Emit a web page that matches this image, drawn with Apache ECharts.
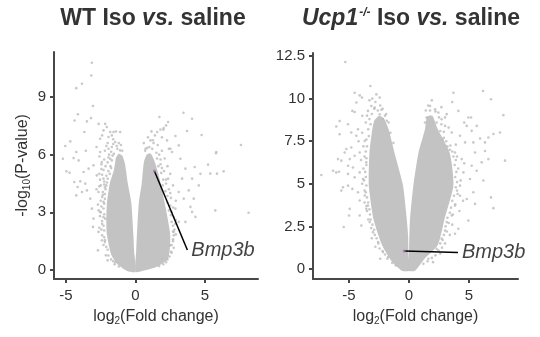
<!DOCTYPE html>
<html>
<head>
<meta charset="utf-8">
<script src="https://cdn.jsdelivr.net/npm/echarts@6/dist/echarts.min.js"></script>
<style>
  html, body { margin: 0; padding: 0; background: #fff; }
  #chart { width: 540px; height: 337px; }
</style>
</head>
<body>
<div id="chart"></div>
<script>
const fontFamily = 'Liberation Sans, Arial, sans-serif';
const dotGrey = '#bcbcbc';
const coreGrey = '#c3c3c3';
const axisGrey = '#474747';

// tick values
const wtXTicks = [-5, 0, 5];
const wtYTicks = [0, 3, 6, 9];
const ucpXTicks = [-5, 0, 5];
const ucpYTicks = [0, 2.5, 5, 7.5, 10, 12.5];

// dense cores of the volcano (outline of the saturated dot cloud), [log2FC, -log10P]
const wtCoreDown = [[0,-0.1],[-0.1,1],[-0.15,1.8],[-0.3,3.5],[-0.55,4.5],[-0.75,5.5],[-0.95,5.95],[-1.2,6.05],[-1.4,5.85],
  [-1.55,5.2],[-1.85,4.5],[-2.05,3.5],[-2.1,2.5],[-2.05,1.8],[-1.75,0.8],[-1.3,0.3],[-0.6,-0.05]];
const wtCoreUp = [[0,-0.1],[0.05,1],[0.1,1.8],[0.24,3.5],[0.45,4.5],[0.6,5.6],[0.8,6.0],[1.1,6.05],[1.35,5.7],
  [1.65,5.0],[2.1,3.5],[2.5,1.8],[2.35,0.6],[1.5,0.15],[0.5,-0.05]];
const ucpCoreDown = [[0,-0.1],[-0.05,1],[-0.08,2],[-0.2,3],[-0.5,4.9],[-1.2,6.8],[-1.7,8.2],[-2.1,8.85],[-2.5,9.0],
  [-2.9,8.7],[-3.1,8.0],[-3.3,6.8],[-3.35,4.9],[-2.95,2.9],[-2.25,1.4],[-1.5,0.5],[-0.6,-0.1]];
const ucpCoreUp = [[0,-0.1],[0,1],[0.08,2.9],[0.36,4.9],[0.78,6.8],[1.33,8.2],[1.5,8.95],[1.95,9.0],[2.4,8.2],
  [3.4,6.8],[3.7,4.9],[2.95,2.9],[2.4,1.4],[1.3,0.6],[0.5,-0.1]];

// scattered genes outside the cores
const wtPoints = [
  [-3.14,10.78],[-3.18,10.12],[-3.85,9.69],[-4.26,9.46],[-3.06,8.53],[-4.14,8.1],[-3.2,7.9],[-4.38,7.78],[-3.49,7.73],
  [-2.65,7.6],[-2.18,7.6],[-2.06,7.44],[-1.82,7.18],[-1.58,7.18],[-1.1,7.18],[-3.68,7.18],
  [-4.69,6.69],[-5.05,6.45],[-4.26,6.14],[-3.57,6.2],[-5.22,5.79],[-4.45,5.82],[-4.09,5.7],
  [-4.97,5.13],[-4.74,5.06],[-3.73,5.1],[-3.37,5.27],[-3.02,5.44],
  [-4.4,4.58],[-3.97,4.61],[-3.61,4.49],[-4.16,4.32],[-4.26,3.88],[-3.85,4.06],[-3.49,4.14],[-3.25,3.71],[-3.14,3.19],
  [-3.02,2.67],[-3.06,2.24],[-2.54,3.02],[-2.66,1.98],[-2.42,1.54],[-2.7,1.02],[-2.13,0.76],[-1.6,0.45],[-1.45,0.4],
  [-2.54,6.14],[-2.42,5.62],[-2.78,4.92],[-2.3,4.75],[-2.66,4.06],[-2.3,3.54],[-2.18,2.67],[-1.94,6.31],[-1.46,6.66],
  [-1.1,6.22],[-1.82,5.79],[-1.94,6.92],[-2.54,6.83],[-2.3,7.26],
  [-2.4,7.0],[-2.0,6.6],[-1.7,6.4],[-1.3,6.3],[-2.2,6.2],[-1.6,6.8],[-2.8,6.4],[-2.6,5.9],[-2.0,5.6],[-2.3,5.2],
  [-2.6,5.0],[-2.5,4.4],[-2.8,4.2],[-2.4,3.8],[-2.7,3.4],[-2.5,3.0],[-2.4,2.4],[-2.6,2.2],[-2.3,1.3],[-2.0,0.5],
  [-1.9,6.0],[-1.8,5.4],[-1.7,7.0],[-1.2,6.6],[-1.4,7.2],[-2.1,4.9],[-2.2,4.3],
  [-1.55,6.05],[-1.75,6.15],[-1.35,6.45],[-1.05,6.5],[-0.95,6.2],[-1.6,6.55],[-2.1,6.45],
  [-1.7,5.7],[-1.95,5.85],[-2.25,5.75],[-1.65,5.95],[-2.45,5.5],
  [-1.75,5.3],[-1.95,5.15],[-2.15,5.4],[-2.45,5.25],[-1.85,5.0],
  [-2.0,4.75],[-2.25,4.6],[-2.05,4.55],[-2.55,4.7],[-2.4,4.95],
  [-2.15,4.2],[-2.35,4.05],[-2.1,4.4],[-2.6,4.35],[-2.25,4.45],
  [-2.2,3.7],[-2.5,3.6],[-2.35,3.9],[-2.2,3.95],
  [-2.3,3.2],[-2.25,3.45],[-2.45,3.3],[-2.65,3.1],
  [-2.3,2.75],[-2.4,2.55],[-2.25,2.9],[-2.55,2.8],
  [-2.3,2.3],[-2.45,2.1],[-2.25,2.05],
  [-2.25,1.7],[-2.4,1.8],[-2.2,1.55],
  [-2.1,1.2],[-2.2,1.45],[-2.0,1.05],
  [-1.95,0.75],[-1.75,0.55],[-1.5,0.3],[-1.2,0.18],
  [3.45,8.18],[4.07,7.87],[1.72,7.96],[2.34,7.7],[2.2,7.52],[2.03,7.38],[1.79,7.31],[1.56,7.18],[1.15,7.21],[3.71,7.23],
  [4.76,7.02],[2.87,6.97],[7.58,6.5],[5.81,6.14],[5.79,6.07],[5.22,5.48],[5.38,5.01],[5.86,5.01],[6.34,5.13],[4.67,5.0],
  [4.26,5.36],[4.07,4.75],[4.55,4.4],[3.83,4.14],[4.19,3.71],[3.95,3.28],[5.74,3.1],[8.13,2.98],[4.31,2.76],[4.07,3.02],[3.59,2.5],
  [3.11,6.48],[2.63,6.14],[3.23,5.79],[3.59,5.27],[3.35,4.75],[3.11,4.06],[3.47,3.71],[2.87,3.19],[3.11,2.5],[2.75,1.98],
  [2.51,1.28],[1.91,0.58],[1.08,6.74],[0.72,6.31],[2.27,6.74],[2.51,6.31],
  [1.0,6.4],[1.3,6.6],[1.6,6.5],[1.9,6.2],[2.1,5.8],[1.8,5.5],[2.3,5.4],[2.5,5.0],[2.2,4.7],[2.7,4.4],[2.5,4.0],[2.9,3.6],
  [2.6,3.0],[2.9,2.6],[2.8,2.1],[2.7,1.5],[2.6,0.9],[2.2,0.4],[1.4,7.0],[0.9,6.9],[1.9,6.9],[2.4,6.3],[2.0,7.3],[0.6,6.6],
  [0.7,6.2],[0.85,6.35],[1.2,6.3],[1.5,6.1],[1.25,6.75],[1.7,6.0],[1.55,5.8],[1.8,5.75],[1.65,5.4],[1.9,5.3],[1.85,5.05],
  [2.05,5.15],[2.0,4.7],[1.95,4.4],[2.2,4.5],[2.35,4.75],[2.15,4.1],[2.4,4.2],[2.3,3.85],[2.55,3.75],[2.3,3.5],[2.5,3.35],
  [2.7,3.25],[2.4,3.1],[2.55,2.85],[2.75,2.75],[2.6,2.5],[2.7,2.3],[2.85,2.4],[2.7,2.0],[2.75,1.8],[2.9,1.85],[2.7,1.6],
  [2.6,1.3],[2.75,1.15],[2.55,0.95],[2.45,0.7],[2.3,0.55],[2.0,0.3],[1.7,0.2]
];
const ucpPoints = [
  [-5.31,12.15],[-3.22,10.74],[-4.53,10.35],[-4.11,10.19],[-3.92,10.06],[-2.72,10.25],[-2.44,10.06],[-3.06,10.0],[-4.39,9.77],
  [-4.72,9.28],[-4.53,9.22],[-3.89,8.99],[-5.78,8.69],[-6.06,8.36],[-5.08,8.5],[-4.25,8.2],[-5.78,7.91],[-4.81,8.01],
  [-4.39,7.82],[-3.69,7.52],[-5.22,7.04],[-4.81,7.13],[-5.36,6.84],[-5.92,6.45],[-5.64,6.36],[-4.94,6.45],[-4.53,6.65],
  [-4.11,6.84],[-5.08,6.06],[-4.67,5.96],[-6.33,5.77],[-6.06,5.67],[-5.83,5.71],[-7.31,5.52],[-5.08,5.58],[-4.53,5.38],
  [-4.11,5.67],[-5.5,4.8],[-5.08,4.89],[-4.72,4.7],[-4.25,4.5],[-5.64,4.6],[-4.11,4.02],[-4.94,3.53],[-5.0,3.14],[-4.11,3.14],
  [-5.44,2.46],[-3.97,2.55],[-3.56,3.53],
  [-3.14,9.57],[-3.42,9.28],[-2.86,9.47],[-2.44,9.08],[-2.17,8.79],[-3.56,6.26],[-3.83,5.28],[-3.69,4.31],[-3.42,3.72],
  [-3.28,2.75],[-3.0,2.16],[-2.58,1.58],[-2.17,0.99],[-1.75,0.7],
  [-3.6,8.6],[-3.9,8.0],[-3.8,7.2],[-4.0,6.4],[-3.8,5.9],[-3.9,5.0],[-3.7,4.6],[-3.5,3.4],[-3.4,2.9],[-3.1,1.8],[-2.8,1.3],
  [-2.4,0.6],[-2.8,9.8],[-3.3,9.9],[-2.2,9.4],[-1.9,9.1],[-3.5,9.0],[-4.2,7.5],[-3.7,3.9],
  [-2.3,9.35],[-2.6,9.3],[-2.0,9.0],[-1.85,8.7],[-3.1,9.1],[-2.9,9.4],[-2.4,9.6],[-3.2,8.5],[-3.3,8.8],[-3.4,8.2],
  [-3.35,7.8],[-3.55,7.6],[-3.5,7.2],[-3.6,6.9],[-3.55,6.5],[-3.7,6.6],[-3.55,6.1],[-3.65,5.7],[-3.6,5.4],[-3.75,5.2],
  [-3.55,4.9],[-3.6,4.5],[-3.5,4.2],[-3.4,3.9],[-3.55,3.7],[-3.3,3.5],[-3.25,3.2],[-3.2,2.9],[-3.05,2.6],[-3.15,2.4],
  [-2.9,2.3],[-2.85,2.0],[-2.7,1.8],[-2.55,1.5],[-2.45,1.2],[-2.2,1.05],[-2.0,0.85],[-1.8,0.6],[-1.4,0.35],[-1.1,0.2],
  [-1.55,8.0],[-1.3,7.4],[-1.7,8.6],
  [3.7,10.35],[6.17,10.45],[6.83,9.96],[7.86,9.03],[1.75,9.57],[2.17,9.38],[2.44,9.18],[3.14,9.09],[4.11,9.28],[4.94,8.89],
  [5.17,8.89],[4.81,8.4],[5.64,8.4],[7.58,8.01],[7.03,7.92],[6.61,7.72],[5.92,7.66],[6.33,7.43],[5.36,7.43],[8.0,6.36],
  [5.5,6.84],[6.33,6.93],[6.61,6.45],[6.06,6.26],[5.22,6.06],[5.64,5.77],[6.19,5.19],[5.08,5.28],[5.36,4.5],[6.83,4.2],
  [7.03,3.57],[4.81,4.11],[5.5,3.82],[4.94,2.84],[4.11,2.36],[3.83,2.07],[3.0,2.26],
  [5.22,8.11],[4.25,7.82],[4.67,7.43],[3.83,6.84],[4.39,6.45],[4.53,5.67],[4.25,4.89],[4.25,4.3],[3.83,3.72],[3.56,3.14],
  [3.14,2.75],[2.72,1.78],[2.3,1.19],[1.61,0.6],[3.0,8.4],[3.56,8.01],[2.72,8.79],[1.47,8.89],[1.33,8.6],
  [1.6,9.6],[2.7,9.5],[3.0,8.9],[3.3,8.3],[2.9,7.7],[3.9,7.3],[4.0,6.6],[4.1,5.9],[4.3,5.2],[4.0,4.6],[4.5,4.0],[4.2,3.4],
  [3.6,2.6],[3.4,2.0],[3.0,1.5],[2.6,0.9],[2.0,0.4],[1.9,9.9],[3.6,9.8],[4.6,8.6],[3.4,7.0],[4.6,6.2],
  [1.4,9.3],[1.75,9.3],[2.2,9.25],[2.5,8.9],[2.3,8.6],[2.7,8.5],[2.6,8.1],[2.9,8.05],[2.8,7.6],[3.1,7.5],[3.2,7.2],
  [3.45,7.25],[3.6,6.9],[3.7,6.6],[3.9,6.4],[3.8,6.1],[3.95,5.7],[3.85,5.4],[4.0,5.1],[3.9,4.8],[4.05,4.4],[3.75,4.3],
  [3.6,4.0],[3.85,3.8],[3.5,3.6],[3.4,3.3],[3.65,3.2],[3.2,3.0],[3.3,2.7],[3.05,2.5],[3.15,2.2],[2.9,2.0],[2.8,1.7],
  [2.6,1.5],[2.75,1.25],[2.45,1.1],[2.2,0.8],[1.9,0.65],[1.55,0.45],[1.2,0.3]
];

// highlighted gene and where its label sits
const wtBmp3b = [1.36, 5.15];
const wtBmp3bLabel = [3.73, 1.04];
const ucpBmp3b = [-0.4, 1.06];
const ucpBmp3bLabel = [4.08, 0.96];

const chart = echarts.init(document.getElementById('chart'));

function xAxisFor(idx, min, max, ticks) {
  return {
    type: 'value', gridIndex: idx, min: min, max: max,
    splitLine: { show: false },
    axisLine: { onZero: false, lineStyle: { color: axisGrey, width: 2 } },
    axisTick: { customValues: ticks, length: 4, lineStyle: { color: axisGrey, width: 2 } },
    axisLabel: { customValues: ticks, fontSize: 15, color: '#333', margin: 9, fontFamily: fontFamily },
    name: 'log{sub|2}(Fold change)', nameLocation: 'middle', nameGap: 29,
    nameTextStyle: {
      fontSize: 16, color: '#333', fontFamily: fontFamily,
      rich: { sub: { fontSize: 10, color: '#333', fontFamily: fontFamily, padding: [8, 0, 0, 0] } }
    }
  };
}

function yAxisFor(idx, min, max, ticks, name) {
  const axis = {
    type: 'value', gridIndex: idx, min: min, max: max,
    splitLine: { show: false },
    axisLine: { onZero: false, lineStyle: { color: axisGrey, width: 2 } },
    axisTick: { customValues: ticks, length: 4, lineStyle: { color: axisGrey, width: 2 } },
    axisLabel: { customValues: ticks, fontSize: 15, color: '#333', margin: 8, fontFamily: fontFamily }
  };
  if (name) {
    axis.name = name;
    axis.nameLocation = 'middle';
    axis.nameGap = 22;
    axis.nameTextStyle = {
      fontSize: 16, color: '#333', fontFamily: fontFamily,
      rich: { sub: { fontSize: 10, color: '#333', fontFamily: fontFamily, padding: [8, 0, 0, 0] } }
    };
  }
  return axis;
}

function coreSeries(idx, polys) {
  return {
    type: 'custom', xAxisIndex: idx, yAxisIndex: idx, silent: true, z: 1,
    data: polys.map((p, i) => [i]),
    renderItem: function (params, api) {
      const poly = polys[params.dataIndex];
      return {
        type: 'polygon',
        shape: { points: poly.map(p => api.coord(p)), smooth: 0.2 },
        style: { fill: coreGrey }
      };
    }
  };
}

function dotSeries(idx, pts) {
  return {
    type: 'scatter', xAxisIndex: idx, yAxisIndex: idx, silent: true, z: 2,
    symbolSize: 2.6, itemStyle: { color: dotGrey }, data: pts
  };
}

function calloutSeries(idx, gene, labelAt) {
  return [
    {
      type: 'line', xAxisIndex: idx, yAxisIndex: idx, silent: true, z: 3,
      data: [gene, labelAt], showSymbol: false, symbol: 'none',
      lineStyle: { color: '#000', width: 1.5 }
    },
    {
      type: 'scatter', xAxisIndex: idx, yAxisIndex: idx, silent: true, z: 4,
      symbolSize: 3, itemStyle: { color: '#b36ac0' }, data: [gene]
    },
    {
      type: 'scatter', xAxisIndex: idx, yAxisIndex: idx, silent: true, z: 4,
      symbolSize: 0, data: [labelAt],
      label: {
        show: true, position: 'right', distance: 4, formatter: 'Bmp3b',
        fontSize: 20, fontStyle: 'italic', color: '#111', fontFamily: fontFamily
      }
    }
  ];
}

chart.setOption({
  animation: false,
  backgroundColor: '#fff',
  grid: [
    { left: 54, top: 52, width: 204, height: 227 },
    { left: 313, top: 53, width: 205, height: 226 }
  ],
  xAxis: [
    xAxisFor(0, -5.86, 8.81, wtXTicks),
    xAxisFor(1, -8.0, 9.08, ucpXTicks)
  ],
  yAxis: [
    yAxisFor(0, -0.47, 11.34, wtYTicks, '-log{sub|10}(P-value)'),
    yAxisFor(1, -0.59, 12.68, ucpYTicks, null)
  ],
  graphic: [
    {
      type: 'text', x: 153, y: 19,
      style: {
        text: 'WT Iso {i|vs.} saline', align: 'center', verticalAlign: 'middle',
        fontSize: 23, fontWeight: 'bold', fontFamily: fontFamily, fill: '#333',
        rich: { i: { fontSize: 23, fontWeight: 'bold', fontStyle: 'italic', fontFamily: fontFamily, fill: '#333' } }
      }
    },
    {
      type: 'text', x: 411, y: 19,
      style: {
        text: '{i|Ucp1}{sup|-/-} Iso {i|vs.} saline', align: 'center', verticalAlign: 'middle',
        fontSize: 23, fontWeight: 'bold', fontFamily: fontFamily, fill: '#333',
        rich: {
          i: { fontSize: 23, fontWeight: 'bold', fontStyle: 'italic', fontFamily: fontFamily, fill: '#333' },
          sup: { fontSize: 12, fontWeight: 'bold', fontStyle: 'italic', fontFamily: fontFamily, fill: '#333', padding: [0, 0, 13, 1] }
        }
      }
    }
  ],
  series: [
    coreSeries(0, [wtCoreDown, wtCoreUp]),
    dotSeries(0, wtPoints),
    ...calloutSeries(0, wtBmp3b, wtBmp3bLabel),
    coreSeries(1, [ucpCoreDown, ucpCoreUp]),
    dotSeries(1, ucpPoints),
    ...calloutSeries(1, ucpBmp3b, ucpBmp3bLabel)
  ]
});
</script>
</body>
</html>
